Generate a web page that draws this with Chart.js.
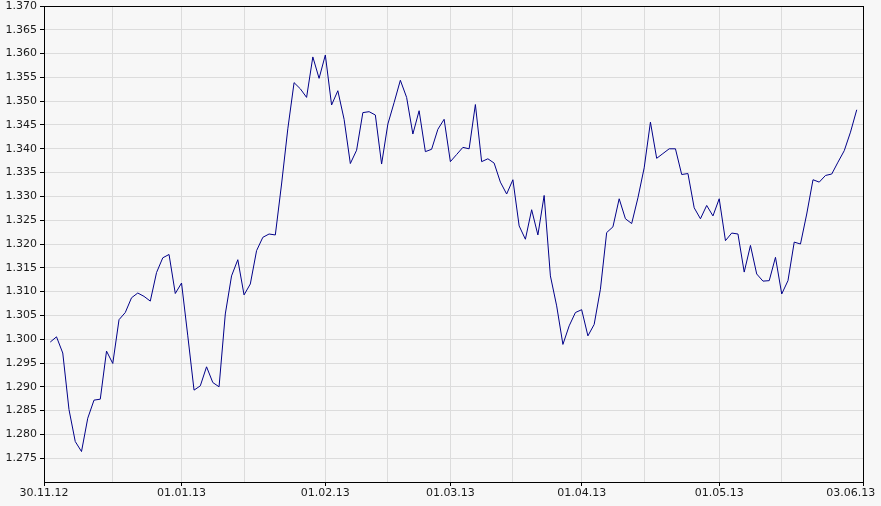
<!DOCTYPE html>
<html>
<head>
<meta charset="utf-8">
<script src="https://cdn.jsdelivr.net/npm/chart.js@4/dist/chart.umd.min.js"></script>
<style>
  html, body { margin: 0; padding: 0; background: #f7f7f7; }
  #wrap { width: 881px; height: 506px; }
</style>
</head>
<body>
<div id="wrap"><canvas id="chart" width="881" height="506"></canvas></div>
<script>
// trading days from 30.11.12 to 03.06.13 (weekdays only)
const startDate = new Date(2012, 10, 30);
const endDate = new Date(2013, 5, 3);
const dates = [];
for (let d = new Date(startDate); d <= endDate; d.setDate(d.getDate() + 1)) {
    const wd = d.getDay();
    if (wd === 0 || wd === 6) continue;
    const dd = String(d.getDate()).padStart(2, "0");
    const mm = String(d.getMonth() + 1).padStart(2, "0");
    const yy = String(d.getFullYear()).slice(2);
    dates.push(dd + "." + mm + "." + yy);
}

// labelled ticks and extra mid-month grid lines
const tickLabels = ["30.11.12", "01.01.13", "01.02.13", "01.03.13", "01.04.13", "01.05.13", "03.06.13"];
const gridDates = ["17.12.12", "15.01.13", "15.02.13", "15.03.13", "15.04.13", "15.05.13"];

// y axis
const yMin = 1.270;
const yMax = 1.370;
const yStep = 0.005;

// rate, one per trading day (no quote on the first and last day)
const rates = [
    null,
    1.2994, 1.3005, 1.2971, 1.2852, 1.2785, 1.2764, 1.2834, 1.2872, 1.2874, 1.2975,
    1.2949, 1.3041, 1.3056, 1.3087, 1.3097, 1.3090, 1.3080, 1.3140, 1.3171, 1.3178,
    1.3096, 1.3118, 1.3007, 1.2893, 1.2902, 1.2942, 1.2909, 1.2900, 1.3053, 1.3133,
    1.3167, 1.3093, 1.3116, 1.3186, 1.3214, 1.3221, 1.3219, 1.3326, 1.3442, 1.3539,
    1.3526, 1.3508, 1.3593, 1.3548, 1.3597, 1.3492, 1.3522, 1.3462, 1.3369, 1.3397,
    1.3476, 1.3478, 1.3471, 1.3368, 1.3452, 1.3497, 1.3544, 1.3508, 1.3431, 1.3480,
    1.3394, 1.3399, 1.3441, 1.3462, 1.3373, 1.3388, 1.3403, 1.3400, 1.3493, 1.3373,
    1.3379, 1.3370, 1.3330, 1.3305, 1.3335, 1.3238, 1.3210, 1.3272, 1.3219, 1.3302,
    1.3133, 1.3070, 1.2989, 1.3028, 1.3056, 1.3062, 1.3007, 1.3031, 1.3105, 1.3224,
    1.3236, 1.3295, 1.3253, 1.3243, 1.3297, 1.3360, 1.3456, 1.3380, 1.3390, 1.3400,
    1.3400, 1.3346, 1.3348, 1.3276, 1.3253, 1.3281, 1.3259, 1.3295, 1.3207, 1.3223,
    1.3221, 1.3141, 1.3197, 1.3137, 1.3122, 1.3123, 1.3172, 1.3095, 1.3123, 1.3204,
    1.3200, 1.3263, 1.3335, 1.3330, 1.3344, 1.3347, 1.3372, 1.3396, 1.3435, 1.3482,
    null
];

const GRID = "#dcdcdc";
const CLEAR = "rgba(0,0,0,0)";
Chart.defaults.font.family = "'DejaVu Sans', Verdana, sans-serif";
Chart.defaults.font.size = 11;
Chart.defaults.color = "#1a1a1a";

new Chart(document.getElementById("chart"), {
    type: "line",
    data: {
        labels: dates,
        datasets: [{
            data: rates,
            borderColor: "#000088",
            borderWidth: 1,
            pointRadius: 0,
            tension: 0,
            fill: false
        }]
    },
    options: {
        responsive: false,
        animation: false,
        layout: { padding: { top: 6, right: 18, bottom: 0, left: 0 } },
        plugins: { legend: { display: false }, tooltip: { enabled: false } },
        scales: {
            x: {
                type: "category",
                offset: false,
                afterBuildTicks: (scale) => {
                    scale.ticks = tickLabels.concat(gridDates)
                        .map(s => dates.indexOf(s))
                        .sort((a, b) => a - b)
                        .map(v => ({ value: v }));
                },
                afterFit: (scale) => {
                    scale.height = 24;
                    scale.paddingLeft = 0;
                    scale.paddingRight = 0;
                },
                ticks: {
                    autoSkip: false,
                    maxRotation: 0,
                    minRotation: 0,
                    padding: 1,
                    callback: (value) => {
                        const s = dates[value];
                        if (!tickLabels.includes(s)) return "";
                        return value === dates.length - 1 ? s + "\u00a0".repeat(7) : s;
                    }
                },
                grid: {
                    color: (ctx) => ctx.tick && ctx.tick.value === dates.length - 1 ? "#000" : GRID,
                    tickColor: (ctx) => ctx.tick && tickLabels.includes(dates[ctx.tick.value]) ? "#000" : CLEAR,
                    tickLength: 4
                },
                border: { color: "#000", width: 1 }
            },
            y: {
                min: yMin,
                max: yMax,
                afterFit: (scale) => {
                    scale.width = 44;
                    scale.paddingTop = 0;
                    scale.paddingBottom = 0;
                },
                ticks: {
                    stepSize: yStep,
                    maxTicksLimit: 40,
                    padding: 3,
                    callback: (v) => v < yMin + yStep / 2 ? "" : v.toFixed(3)
                },
                grid: {
                    color: (ctx) => ctx.tick && ctx.tick.value > yMax - yStep / 2 ? "#000" : GRID,
                    tickColor: (ctx) => ctx.tick && ctx.tick.value < yMin + yStep / 2 ? CLEAR : "#000",
                    tickLength: 4
                },
                border: { color: "#000", width: 1 }
            }
        }
    }
});
</script>
</body>
</html>
